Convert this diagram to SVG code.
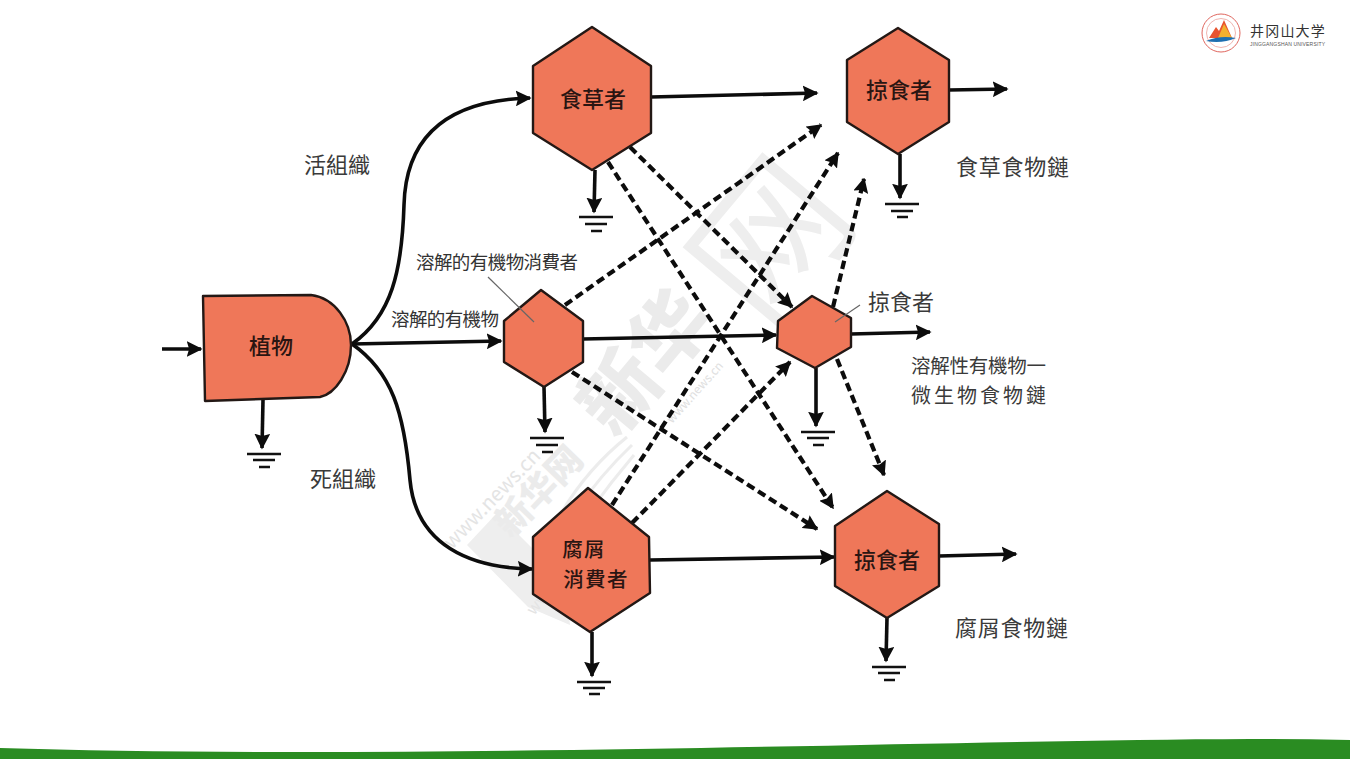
<svg xmlns="http://www.w3.org/2000/svg" width="1350" height="759" viewBox="0 0 1350 759">
<style>
text{font-family:"Noto Sans CJK TC","Noto Sans CJK SC",sans-serif;fill:#2b2b2b}
.node{fill:#ef7759;stroke:#231815;stroke-width:2.4;stroke-linejoin:round}
.in{font-size:22px;text-anchor:middle;fill:#2a1512;font-weight:500}
.lb{font-size:22px;fill:#3a3a3a}
.sm{font-size:18.5px;fill:#333}
.s{fill:none;stroke:#0c0c0c;stroke-width:3.6;marker-end:url(#a)}
.d{fill:none;stroke:#0c0c0c;stroke-width:4.2;stroke-dasharray:8.5 4.5;marker-end:url(#b)}
.g{stroke:#111;stroke-width:2.6}
.lead{stroke:#666;stroke-width:1.2;fill:none}
.wm{fill:#ebebeb;font-weight:900;text-anchor:middle}
.sw{fill:none;stroke:#ececec;stroke-width:3}
</style>
<defs>
<marker id="a" viewBox="0 0 10 10" refX="9" refY="5" markerWidth="4.4" markerHeight="4.4" orient="auto" markerUnits="strokeWidth"><path d="M0 0L10 5L0 10L1.5 5Z" fill="#0c0c0c"/></marker>
<marker id="b" viewBox="0 0 10 10" refX="9" refY="5" markerWidth="3.6" markerHeight="3.6" orient="auto" markerUnits="strokeWidth"><path d="M0 0L10 5L0 10L1.5 5Z" fill="#0c0c0c"/></marker>
</defs>
<rect width="1350" height="759" fill="#fff"/>

<g id="watermark">
<path d="M467 545L497 513L540 556L560 530L570 625L528 607Z" fill="#eeeeee"/>
<path class="sw" d="M553 528Q580 475 627 437M563 532Q590 485 632 445M573 536Q600 495 634 455"/>
<text class="wm" font-size="36" transform="translate(548 500) rotate(-46)">新华网</text>
<text class="wm" font-size="78" transform="translate(666 380) rotate(-50)">新华</text>
<text class="wm" font-size="150" font-weight="400" style="fill:#eeeeee;font-weight:400" transform="translate(812 275) rotate(-50)">网</text>
<text font-size="20" style="fill:#e4e4e4" transform="translate(452 550) rotate(-46)">www.news.cn</text>
<text font-size="12" style="fill:#e0e0e0" transform="translate(672 424) rotate(-48)">www.news.cn</text>
<text font-size="16" style="fill:#e4e4e4" transform="translate(534 616) rotate(-51)">www.news.cn</text>
</g>

<g id="connectors">
<path class="s" d="M162 349L201 349"/>
<path class="s" d="M352 344C392 316 402 270 404 205C406 130 455 100 530 98"/>
<path class="s" d="M352 344L501 341"/>
<path class="s" d="M352 344C392 372 404 412 410 480C416 545 470 568 532 569"/>
<path class="s" d="M651 97L817 93"/>
<path class="s" d="M949 90L1007 89"/>
<path class="s" d="M583 339L776 335"/>
<path class="s" d="M851 334L930 332"/>
<path class="s" d="M650 560L834 557"/>
<path class="s" d="M939 556L1016 554"/>
<path class="d" d="M630 147L792 307"/>
<path class="d" d="M608 162L833 508"/>
<path class="d" d="M565 305L821 125"/>
<path class="d" d="M572 372L817 529"/>
<path class="d" d="M612 505L838 153"/>
<path class="d" d="M632 523L790 362"/>
<path class="d" d="M833 307L864 179"/>
<path class="d" d="M837 359L884 475"/>
<path class="s" d="M263 400L262 448"/>
<path class="s" d="M595 170L594 212"/>
<path class="s" d="M544 387L545 432"/>
<path class="s" d="M816 368L816 426"/>
<path class="s" d="M900 154L900 198"/>
<path class="s" d="M592 632L592 676"/>
<path class="s" d="M887 618L886 661"/>
<path class="g" d="M247 454H281M253 460H275M259 467H270"/>
<path class="g" d="M579 217H613M585 224H607M591 231H602"/>
<path class="g" d="M530 438H564M536 445H558M542 452H553"/>
<path class="g" d="M801 432H835M807 438H829M813 445H824"/>
<path class="g" d="M885 204H919M891 211H913M897 217H908"/>
<path class="g" d="M577 682H611M583 688H605M589 694H600"/>
<path class="g" d="M872 667H906M878 673H900M884 680H895"/>
</g>

<g id="plant"><path class="node" d="M203 296L311 295C335 298 351 322 351 345C351 372 335 394 320 397L205 401Z"/><text class="in" x="271" y="354">植物</text></g>
<g id="herbivore"><polygon class="node" points="592,27 651,66 651,133 592,170 533,133 533,66"/><text class="in" x="593" y="107">食草者</text></g>
<g id="predator-top"><polygon class="node" points="898,28 949,60 949,122 898,154 847,122 847,60"/><text class="in" x="899" y="98">掠食者</text></g>
<g id="doc-consumer"><polygon class="node" points="541,290 583,321 583,362 544,387 504,362 504,321"/></g>
<g id="predator-mid"><polygon class="node" points="812,296 851,318 851,347 815,368 777,348 778,321"/></g>
<g id="detritivore"><polygon class="node" points="588,488 649,537 650,593 590,632 533,594 533,537"/><text class="in" style="font-size:20.5px;letter-spacing:1.3px"><tspan x="584" y="557">腐屑</tspan><tspan x="596" y="587">消費者</tspan></text></g>
<g id="predator-bottom"><polygon class="node" points="887,491 939,524 939,586 887,618 835,586 835,526"/><text class="in" x="887" y="568">掠食者</text></g>

<g id="labels">
<text class="lb" x="304" y="173">活組織</text>
<text class="lb" x="310" y="487">死組織</text>
<text class="sm" x="416" y="269" textLength="162">溶解的有機物消費者</text>
<text class="sm" x="391" y="326" textLength="108">溶解的有機物</text>
<path class="lead" d="M488 277L534 322"/>
<path class="lead" d="M835 322L860 305"/>
<text class="lb" x="868" y="310">掠食者</text>
<text class="lb" x="911" y="373" style="font-size:19.5px" textLength="135">溶解性有機物一</text>
<text class="lb" x="911" y="403" style="font-size:20px" textLength="135">微生物食物鏈</text>
<text class="lb" x="956" y="175" textLength="113">食草食物鏈</text>
<text class="lb" x="955" y="636" textLength="113">腐屑食物鏈</text>
</g>

<g id="logo">
<circle cx="1221" cy="33" r="19" fill="#fff" stroke="#e0675f" stroke-width="1"/>
<circle cx="1221" cy="33" r="14.5" fill="none" stroke="#f0b5b0" stroke-width="1"/>
<path d="M1209 38L1216 27L1219 31L1224 20L1232 38Z" fill="#e8542f"/>
<path d="M1218 38L1224 24L1232 38Z" fill="#f2b02e"/>
<path d="M1206 41Q1220 35 1236 38Q1222 44 1206 41Z" fill="#1e6fb0"/>
<text x="1250" y="36" font-size="14" letter-spacing="1.2" style="fill:#333">井冈山大学</text>
<text x="1250" y="46" font-size="5" textLength="75" style="font-family:'Liberation Sans',sans-serif;fill:#555">JINGGANGSHAN  UNIVERSITY</text>
</g>

<path id="footer" d="M0 748Q130 752 300 752C650 752 1000 740 1250 739Q1300 739 1350 740V759H0Z" fill="#2a8c22"/>
</svg>
